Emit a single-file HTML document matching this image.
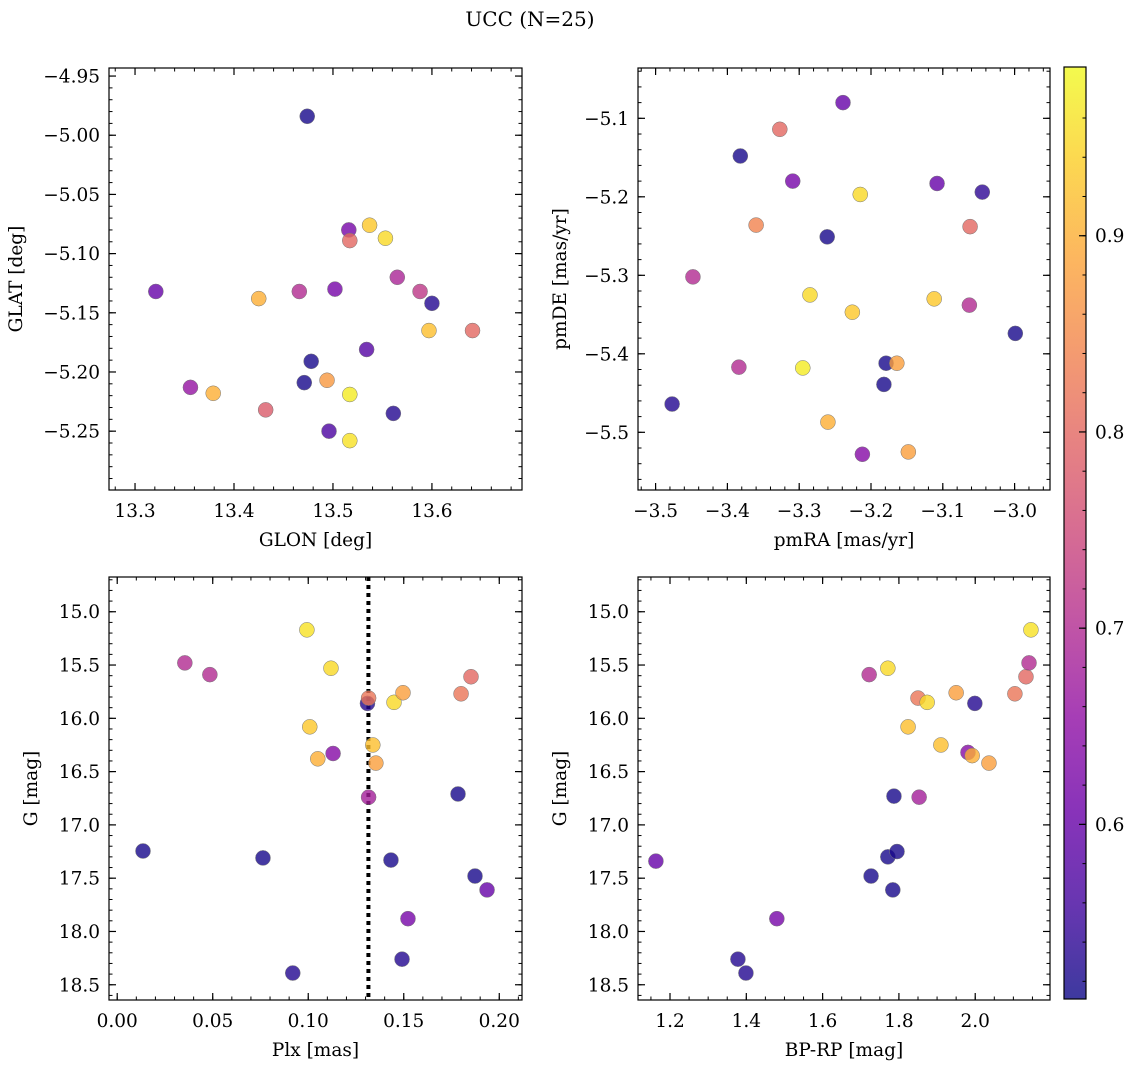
<!DOCTYPE html>
<html><head><meta charset="utf-8">
<style>
html,body{margin:0;padding:0;background:#fff;}
svg{display:block;font-family:"DejaVu Serif","Liberation Serif",serif;}
</style></head>
<body>
<svg id="fig" width="1136" height="1067" viewBox="0 0 1136 1067" xmlns="http://www.w3.org/2000/svg">
<text x="530" y="26" font-size="20" text-anchor="middle">UCC (N=25)</text>
</svg>
<script>
// ---- data ----
const glon = [13.474,13.321,13.356,13.379,13.425,13.432,13.466,13.471,13.478,13.494,13.496,13.502,13.516,13.517,13.517,13.517,13.534,13.537,13.553,13.565,13.561,13.588,13.600,13.597,13.641];
const glat = [-4.984,-5.132,-5.213,-5.218,-5.138,-5.232,-5.132,-5.209,-5.191,-5.207,-5.250,-5.130,-5.080,-5.089,-5.219,-5.258,-5.181,-5.076,-5.087,-5.120,-5.235,-5.132,-5.142,-5.165,-5.165];
const probA = [0.52,0.60,0.66,0.90,0.90,0.78,0.70,0.52,0.52,0.87,0.57,0.62,0.62,0.80,0.97,0.96,0.58,0.93,0.95,0.69,0.53,0.72,0.53,0.92,0.80];

const pmra = [-3.239,-3.327,-3.382,-3.309,-3.215,-3.108,-3.045,-3.360,-3.062,-3.261,-3.448,-3.285,-3.112,-3.226,-3.063,-2.999,-3.179,-3.164,-3.182,-3.384,-3.295,-3.477,-3.260,-3.212,-3.148];
const pmde = [-5.080,-5.114,-5.148,-5.180,-5.197,-5.183,-5.194,-5.236,-5.238,-5.251,-5.302,-5.325,-5.330,-5.347,-5.338,-5.374,-5.412,-5.412,-5.439,-5.417,-5.418,-5.464,-5.487,-5.528,-5.525];
const probB = [0.60,0.80,0.52,0.62,0.95,0.60,0.54,0.84,0.80,0.52,0.70,0.95,0.93,0.93,0.70,0.52,0.52,0.88,0.52,0.70,0.97,0.53,0.90,0.64,0.88];

const plx = [0.0135,0.0354,0.0485,0.0763,0.0919,0.0993,0.1008,0.105,0.1119,0.113,0.131,0.1316,0.1316,0.1338,0.1354,0.1433,0.1449,0.1496,0.1491,0.1522,0.1784,0.18,0.1852,0.1873,0.1936];
const gmagC = [17.245,15.48,15.59,17.31,18.39,15.17,16.08,16.38,15.53,16.33,15.86,15.81,16.74,16.25,16.42,17.33,15.85,15.76,18.26,17.88,16.71,15.77,15.61,17.48,17.61];
const probC = [0.52,0.70,0.70,0.52,0.53,0.96,0.93,0.90,0.95,0.64,0.53,0.82,0.68,0.92,0.88,0.52,0.95,0.88,0.53,0.62,0.52,0.82,0.80,0.52,0.60];
const plxLine = [0.1315];

const bprp = [1.163,1.378,1.399,1.48,1.722,1.727,1.771,1.771,1.787,1.795,1.784,1.824,1.85,1.853,1.874,1.91,1.95,1.981,1.992,1.999,2.036,2.104,2.133,2.141,2.146];
const gmagD = [17.34,18.26,18.39,17.88,15.59,17.48,15.53,17.30,16.73,17.25,17.61,16.08,15.81,16.74,15.85,16.25,15.76,16.32,16.35,15.86,16.42,15.77,15.61,15.48,15.17];
const probD = [0.60,0.53,0.53,0.62,0.70,0.52,0.95,0.52,0.52,0.52,0.52,0.92,0.82,0.68,0.95,0.92,0.88,0.64,0.90,0.53,0.88,0.82,0.80,0.70,0.96];

const ticksGlon = [13.3,13.4,13.5,13.6];
const ticksGlat = [-4.95,-5.00,-5.05,-5.10,-5.15,-5.20,-5.25];
const ticksPmra = [-3.5,-3.4,-3.3,-3.2,-3.1,-3.0];
const ticksPmde = [-5.1,-5.2,-5.3,-5.4,-5.5];
const ticksPlx = [0.00,0.05,0.10,0.15,0.20];
const ticksG = [15.0,15.5,16.0,16.5,17.0,17.5,18.0,18.5];
const ticksBprp = [1.2,1.4,1.6,1.8,2.0];
const ticksCbar = [0.6,0.7,0.8,0.9];
const cRange = [0.511,0.986];

// ---- helpers ----
const NS = "http://www.w3.org/2000/svg";
const svg = document.getElementById('fig');
const FS = 18.5;
function mk(tag, attrs, parent){const e=document.createElementNS(NS,tag);for(const k in attrs)e.setAttribute(k,attrs[k]);(parent||svg).appendChild(e);return e;}
const stops=[[13,8,135],[65,4,157],[106,0,168],[143,13,164],[177,42,144],[204,71,120],[225,100,98],[242,132,75],[252,166,54],[252,206,37],[240,249,33]];
function plasma(t){t=Math.max(0,Math.min(1,t));const f=t*10,i=Math.min(9,Math.floor(f)),r=f-i;const a=stops[i],b=stops[i+1];return `rgb(${Math.round(a[0]+(b[0]-a[0])*r)},${Math.round(a[1]+(b[1]-a[1])*r)},${Math.round(a[2]+(b[2]-a[2])*r)})`;}
function cmap(p){return plasma((p-cRange[0])/(cRange[1]-cRange[0]));}
function fmt(v,d){const s=Math.abs(v).toFixed(d);return (v<0?"\u2212":"")+s;}

function panel(cfg){
  const {x0,y0,x1,y1,xmin,xmax,ymin,ymax,xt,yt,xminor,yminor,xd,yd,xs,ys,ps,xlabel,ylabel,name,ylabX}=cfg;
  const sx=v=>x0+(v-xmin)/(xmax-xmin)*(x1-x0);
  const sy=v=>y0+(v-ymax)/(ymin-ymax)*(y1-y0);
  const g=mk('g',{});
  
  
  const lo=Math.min(xmin,xmax),hi=Math.max(xmin,xmax);
  for(let v=Math.ceil(lo/xminor)*xminor;v<=hi;v+=xminor){const X=sx(v);mk('line',{x1:X,x2:X,y1:y1,y2:y1-3.5,stroke:'#000','stroke-width':1},g);mk('line',{x1:X,x2:X,y1:y0,y2:y0+3.5,stroke:'#000','stroke-width':1},g);}
  const ylo=Math.min(ymin,ymax),yhi=Math.max(ymin,ymax);
  for(let v=Math.ceil(ylo/yminor)*yminor;v<=yhi;v+=yminor){const Y=sy(v);mk('line',{x1:x0,x2:x0+3.5,y1:Y,y2:Y,stroke:'#000','stroke-width':1},g);mk('line',{x1:x1,x2:x1-3.5,y1:Y,y2:Y,stroke:'#000','stroke-width':1},g);}
  xt.forEach(v=>{const X=sx(v);mk('line',{x1:X,x2:X,y1:y1,y2:y1-7,stroke:'#000','stroke-width':1.2},g);mk('line',{x1:X,x2:X,y1:y0,y2:y0+7,stroke:'#000','stroke-width':1.2},g);
    const t=mk('text',{x:X,y:y1+27,'font-size':FS,'text-anchor':'middle'},g);t.textContent=fmt(v,xd);
    
    });
  yt.forEach(v=>{const Y=sy(v);mk('line',{x1:x0,x2:x0+7,y1:Y,y2:Y,stroke:'#000','stroke-width':1.2},g);mk('line',{x1:x1,x2:x1-7,y1:Y,y2:Y,stroke:'#000','stroke-width':1.2},g);
    const t=mk('text',{x:x0-9,y:Y+6.5,'font-size':FS,'text-anchor':'end'},g);t.textContent=fmt(v,yd);
    
    });
  const xl=mk('text',{x:(x0+x1)/2,y:y1+56,'font-size':FS,'text-anchor':'middle'},g);xl.textContent=xlabel;
  
  
  const yl=mk('text',{x:0,y:0,'font-size':FS,'text-anchor':'middle',transform:`translate(${ylabX},${(y0+y1)/2}) rotate(-90)`},g);yl.textContent=ylabel;
  
  
  const cid='clip-'+name;const cp=mk('clipPath',{id:cid},g);mk('rect',{x:x0,y:y0,width:x1-x0,height:y1-y0},cp);
  const pg=mk('g',{'clip-path':`url(#${cid})`},g);
  if(cfg.vline){cfg.vline.forEach(v=>{const l=mk('line',{x1:sx(v),x2:sx(v),y1:y0,y2:y1,stroke:'#000','stroke-width':4,'stroke-dasharray':'4 4'},pg);
    
    });}
  xs.forEach((v,i)=>{const c=mk('circle',{cx:sx(v),cy:sy(ys[i]),r:7.5,fill:cmap(ps[i]),'fill-opacity':0.8,stroke:'#777','stroke-width':0.5},pg);
    
    });
  mk('rect',{x:x0,y:y0,width:x1-x0,height:y1-y0,fill:'none',stroke:'#000','stroke-width':1.2},g);
}

panel({name:'panel-glon-glat',x0:109,y0:68,x1:522,y1:490,xmin:13.2737,xmax:13.691,ymin:-5.2997,ymax:-4.9432,xt:ticksGlon,yt:ticksGlat,xminor:0.02,yminor:0.01,xd:1,yd:2,xs:glon,ys:glat,ps:probA,xlabel:'GLON [deg]',ylabel:'GLAT [deg]',ylabX:22});
panel({name:'panel-pmra-pmde',x0:638,y0:68,x1:1050,y1:490,xmin:-3.5245,xmax:-2.9507,ymin:-5.5735,ymax:-5.0359,xt:ticksPmra,yt:ticksPmde,xminor:0.02,yminor:0.02,xd:1,yd:1,xs:pmra,ys:pmde,ps:probB,xlabel:'pmRA [mas/yr]',ylabel:'pmDE [mas/yr]',ylabX:566});
panel({name:'panel-plx-g',x0:109,y0:577,x1:522,y1:1000,xmin:-0.0043,xmax:0.2119,ymin:18.643,ymax:14.674,xt:ticksPlx,yt:ticksG,xminor:0.01,yminor:0.1,xd:2,yd:1,xs:plx,ys:gmagC,ps:probC,xlabel:'Plx [mas]',ylabel:'G [mag]',ylabX:37,vline:plxLine});
panel({name:'panel-bprp-g',x0:638,y0:577,x1:1050,y1:1000,xmin:1.1161,xmax:2.196,ymin:18.643,ymax:14.674,xt:ticksBprp,yt:ticksG,xminor:0.05,yminor:0.1,xd:1,yd:1,xs:bprp,ys:gmagD,ps:probD,xlabel:'BP-RP [mag]',ylabel:'G [mag]',ylabX:566});

(function(){
  const x0=1064,x1=1086,y0=67,y1=999;
  const g=mk('g',{});
  
  
  const defs=mk('defs',{},g);const lg=mk('linearGradient',{id:'cbg',x1:0,y1:1,x2:0,y2:0},defs);
  for(let i=0;i<=20;i++){mk('stop',{offset:(i/20),'stop-color':plasma(i/20)},lg);}
  mk('rect',{x:x0,y:y0,width:x1-x0,height:y1-y0,fill:'url(#cbg)','fill-opacity':0.8},g);
  const sy=v=>y1-(v-cRange[0])/(cRange[1]-cRange[0])*(y1-y0);
  for(let v=0.52;v<=0.98;v+=0.02){const Y=sy(v);mk('line',{x1:x1,x2:x1-3.5,y1:Y,y2:Y,stroke:'#000','stroke-width':1},g);}
  ticksCbar.forEach(v=>{const Y=sy(v);mk('line',{x1:x1,x2:x1-7,y1:Y,y2:Y,stroke:'#000','stroke-width':1.2},g);
    const t=mk('text',{x:x1+9,y:Y+6.5,'font-size':FS},g);t.textContent=v.toFixed(1);
    
    });
  mk('rect',{x:x0,y:y0,width:x1-x0,height:y1-y0,fill:'none',stroke:'#000','stroke-width':1.2},g);
})();
</script>
</body></html>
